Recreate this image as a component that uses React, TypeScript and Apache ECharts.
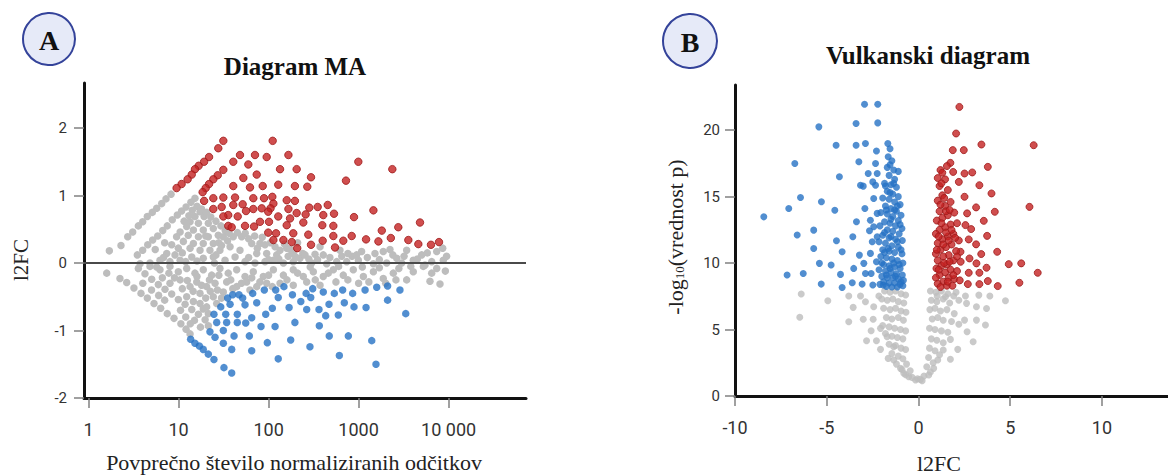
import React, { useEffect, useRef } from 'react';
import * as echarts from 'echarts';

// ---------- Panel A: MA plot (mean normalized counts, l2FC) ----------
const A_X_TICKS = [1, 10, 100, 1000, 10000];
const A_Y_TICKS = [-2, -1, 0, 1, 2];

const A_RED: [number, number][] = [
  [31.4, 1.81], [27.6, 1.70], [21.8, 1.57], [19.2, 1.50], [16.7, 1.44], [15.2, 1.39], [14.0, 1.31], [12.6, 1.24], [10.8, 1.17], [9.5, 1.11],
  [31.4, 1.38], [27.2, 1.30], [24.3, 1.24], [21.8, 1.17], [20.0, 1.11], [18.5, 1.05],
  [40.5, 1.50], [48.1, 1.60], [70.6, 1.60], [95.2, 1.57], [111, 1.81], [166, 1.60], [59.5, 1.46], [73.8, 1.31], [52.4, 1.26], [40.5, 1.14],
  [62.1, 1.12], [86, 1.14], [128, 1.16], [196, 1.14], [134, 1.39], [205, 1.39],
  [19.2, 0.92], [24.3, 0.96], [31.4, 0.97], [42.4, 0.97], [51.5, 0.87], [67.6, 0.96], [88.9, 0.96], [110, 0.98], [113, 0.88], [105, 0.81],
  [99, 0.76], [83.8, 0.81], [67.6, 0.80], [56.1, 0.77], [40.5, 0.86], [30.1, 0.83], [24.3, 0.80], [35.6, 0.71], [31.4, 0.69], [45.4, 0.69],
  [54.7, 0.55], [68.9, 0.54], [80.2, 0.61], [101, 0.61], [128, 0.69], [173, 0.66], [159, 0.56], [205, 0.74], [35.6, 0.55], [38.9, 0.53],
  [99, 0.45], [121, 0.44], [113, 0.34], [146, 0.34], [181, 0.31], [188, 0.44], [208, 0.22],
  [159, 0.93], [196, 0.92], [166, 0.80],
  [993, 1.50], [2370, 1.39], [724, 1.22], [296, 1.27], [269, 1.13], [1460, 0.78], [889, 0.68], [4810, 0.60], [2760, 0.53], [1810, 0.48],
  [1210, 0.35], [1660, 0.32], [2280, 0.37], [3570, 0.34], [4610, 0.28], [6370, 0.27], [7820, 0.31], [838, 0.40], [676, 0.33], [547, 0.23],
  [524, 0.40], [524, 0.55], [395, 0.56], [399, 0.33], [405, 0.71], [533, 0.73], [454, 0.86], [351, 0.83], [283, 0.82], [296, 0.27],
  [258, 0.72], [243, 0.60], [276, 0.42],
];

const A_BLUE: [number, number][] = [
  [13.6, -1.13], [15.2, -1.19], [17.0, -1.23], [18.8, -1.28], [21.4, -1.35], [24.7, -1.43], [31.9, -1.55], [38.9, -1.63],
  [22.3, -1.02], [25.4, -1.10], [31.4, -1.00], [24.7, -0.76], [29.4, -0.65], [33.4, -0.76], [26.5, -0.88], [34.2, -0.88],
  [31.4, -1.19], [38.9, -1.28], [41.3, -1.08], [44.9, -0.88], [44.9, -0.76], [37.3, -0.61], [35.1, -0.52], [39.9, -0.47],
  [46.9, -0.47], [51.5, -0.52], [54.7, -0.62], [55.7, -0.89], [64.9, -1.30], [61.1, -1.08], [64.9, -0.81], [66.6, -0.45],
  [73.8, -0.59], [82.4, -0.94], [92.9, -0.76], [89.6, -0.40], [96.8, -1.18], [110, -0.67], [118, -0.94], [120, -0.40],
  [128, -0.51], [128, -1.42], [148, -0.35], [169, -0.66], [184, -0.47], [196, -0.88], [176, -1.14], [228, -0.57],
  [261, -0.45], [265, -0.69], [294, -0.51], [309, -0.38], [288, -1.24], [366, -0.93], [363, -0.69], [405, -0.43],
  [431, -0.78], [469, -0.61], [472, -1.08], [537, -0.45], [595, -0.77], [665, -0.40], [694, -0.59], [769, -1.08],
  [859, -0.45], [889, -0.65], [611, -1.37], [1180, -0.40], [1210, -0.66], [1400, -1.15], [1560, -1.50], [1590, -0.36],
  [2100, -0.34], [2100, -0.55], [2880, -0.40], [3340, -0.75],
];

const A_GRAY: [number, number][] = [
  [8.24, 1.02], [7.24, 0.95], [6.49, 0.88], [5.71, 0.81], [5.1, 0.75], [4.49, 0.69], [3.99, 0.61], [3.57, 0.55], [3.09, 0.46], [2.72, 0.39], [2.29, 0.26], [1.70, 0.18],
  [15.2, 0.96], [13.7, 0.90], [12.1, 0.83], [10.8, 0.77], [9.68, 0.71], [8.51, 0.64], [7.48, 0.55], [6.66, 0.48], [5.86, 0.40], [5.15, 0.34], [4.54, 0.27], [3.99, 0.19], [3.48, 0.12],
  [17.3, 0.76], [15.2, 0.69], [19.2, 0.69], [13.4, 0.61], [16.6, 0.59], [21.4, 0.59], [12.3, 0.54], [14.6, 0.49], [18.8, 0.49], [24.3, 0.51],
  [10.4, 0.46], [12.8, 0.41], [16.6, 0.39], [21.4, 0.39], [27.6, 0.41], [9.5, 0.39], [11.3, 0.32], [14.6, 0.29], [18.8, 0.29], [24.3, 0.29],
  [31.4, 0.39], [40.5, 0.39], [50.2, 0.39], [8.38, 0.27], [9.93, 0.22], [13.4, 0.22], [17.3, 0.19], [22.3, 0.19], [28.8, 0.19], [37.3, 0.24],
  [48.1, 0.19], [64.9, 0.29], [80.2, 0.29], [73.8, 0.14], [95.2, 0.14], [123, 0.12], [159, 0.22], [188, 0.14], [7.38, 0.14], [9.12, 0.12],
  [6.21, 0.04], [8.02, 0.02], [10.4, 0.04], [14.0, 0.09], [18.8, 0.07], [24.3, 0.09], [32.8, 0.04], [42.4, 0.09], [54.7, 0.02], [70.6, 0.00],
  [91.2, 0.02], [113, 0.04], [146, 0.00], [188, 0.02], [4.81, 0.00], [3.73, -0.01], [5.71, -0.06], [91.2, 0.27], [134, 0.19], [223, 0.07],
  [11.5, 0.62], [13.0, 0.70], [14.2, 0.78], [16.0, 0.84], [18.0, 0.80], [20.5, 0.75], [22.8, 0.68], [26.0, 0.62], [29.5, 0.55], [33.0, 0.48],
  [36.5, 0.44], [45.0, 0.45], [55.0, 0.44], [60.0, 0.36], [70.0, 0.40], [85.0, 0.38], [105, 0.30], [118, 0.24], [150, 0.28], [175, 0.20],
  [200, 0.09], [210, 0.30], [240, 0.14], [60, 0.08], [75, 0.22], [100, 0.05], [130, 0.06], [165, 0.10], [28, 0.30], [35, 0.33],
  [26, 0.12], [30, 0.26], [20, 0.40], [11, 0.15], [7, 0.30], [5.5, 0.20], [6.8, 0.08], [12, 0.02], [16, 0.03], [25, 0.00],
  [328, 0.13], [405, 0.12], [571, 0.02], [738, 0.02], [1080, 0.17], [1520, 0.14], [1880, 0.17], [2650, 0.07], [3420, 0.19], [4050, 0.04],
  [5020, 0.12], [6490, 0.02], [7380, 0.17], [8730, 0.04], [254, 0.12], [301, 0.00], [442, -0.01], [1460, -0.01], [2050, 0.00], [3010, 0.00],
  [5470, -0.03], [373, 0.24], [993, 0.04], [621, 0.19], [845, 0.10], [2230, 0.20],
  [280, 0.06], [350, 0.05], [480, 0.08], [650, 0.10], [760, 0.14], [950, 0.12], [1250, 0.08], [1700, 0.05], [2400, 0.12], [3200, 0.10],
  [4500, 0.06], [5800, 0.15], [9500, 0.10], [1100, -0.06], [1700, -0.07], [2800, -0.08], [3800, -0.05], [600, -0.05], [290, -0.06], [9200, -0.12],
  [8600, 0.22],
  [5240, -0.05], [6490, -0.15], [7380, -0.08], [6210, -0.27],
  [1.59, -0.15], [2.23, -0.23], [2.65, -0.29], [3.19, -0.37], [3.82, -0.45], [4.49, -0.52], [5.33, -0.60], [6.32, -0.67], [7.48, -0.75], [8.89, -0.82], [10.6, -0.90], [12.1, -0.98], [13.4, -1.05],
  [3.57, -0.08], [4.23, -0.16], [5.02, -0.24], [5.95, -0.32], [7.06, -0.39], [8.38, -0.46], [9.93, -0.54], [11.8, -0.61], [14.0, -0.69], [16.6, -0.76], [19.7, -0.84], [21.4, -0.93],
  [4.81, -0.05], [6.21, -0.10], [8.02, -0.05], [9.93, -0.13], [12.3, -0.08], [15.2, -0.15], [18.8, -0.10], [23.3, -0.18], [28.8, -0.08], [35.6, -0.15],
  [44.2, -0.10], [54.7, -0.20], [67.6, -0.13], [87.3, -0.20], [113, -0.10], [146, -0.18], [188, -0.10], [243, -0.20], [314, -0.13], [405, -0.20],
  [524, -0.10], [676, -0.18], [873, -0.10], [1130, -0.20], [1460, -0.13], [1880, -0.23], [2430, -0.15], [3420, -0.25], [4050, -0.13], [8020, -0.31],
  [8.02, -0.30], [10.4, -0.25], [13.4, -0.35], [15.9, -0.28], [17.3, -0.45], [20.5, -0.35], [24.3, -0.50], [25.4, -0.30], [31.4, -0.43], [34.2, -0.28],
  [17.3, -0.60], [20.5, -0.65], [12.3, -0.50], [14.6, -0.57], [44.2, -0.35], [57.1, -0.28], [73.8, -0.35], [95.2, -0.30], [134, -0.30], [188, -0.33],
  [265, -0.28], [373, -0.33], [26.5, -0.60], [21.4, -0.75], [18.8, -0.68],
  [5.0, -0.40], [6.0, -0.48], [7.0, -0.55], [4.0, -0.30], [6.6, -0.22], [7.8, -0.15], [9.0, -0.22], [11.0, -0.38], [12.5, -0.26], [14.5, -0.42],
  [16.0, -0.20], [18.0, -0.33], [20.0, -0.52], [22.5, -0.42], [22.0, -0.25], [27.0, -0.40], [28.0, -0.18], [30.0, -0.52], [38.0, -0.25], [40.0, -0.38],
  [50.0, -0.30], [62.0, -0.40], [65.0, -0.22], [80.0, -0.28], [100, -0.18], [110, -0.35], [160, -0.25], [210, -0.15], [330, -0.25], [460, -0.15],
  [560, -0.28], [760, -0.25], [1000, -0.30], [1300, -0.28], [2000, -0.30], [2600, -0.25], [15.0, -0.85], [17.5, -0.95], [10.5, -0.70], [12.0, -0.80],
  [13.5, -0.90],
];

// ---------- Panel B: volcano plot (l2FC, -log10 p) ----------
const B_X_TICKS = [-10, -5, 0, 5, 10];
const B_Y_TICKS = [0, 5, 10, 15, 20];

const B_BLUE: [number, number][] = [
  [-8.43, 13.48], [-7.07, 14.11], [-6.74, 17.50], [-6.43, 14.94], [-6.61, 12.11], [-7.16, 9.10], [-6.28, 9.22], [-5.43, 20.25], [-5.71, 12.48], [-5.71, 11.10],
  [-5.40, 9.98], [-5.29, 14.61], [-4.76, 9.85], [-4.56, 13.98], [-4.49, 18.87], [-4.31, 16.49], [-4.47, 11.68], [-4.16, 10.85], [-4.25, 9.15], [-3.58, 11.98],
  [-3.53, 9.60], [-3.38, 13.11], [-3.40, 20.50], [-3.40, 18.87], [-3.25, 17.62], [-3.16, 15.86], [-3.01, 15.79], [-2.92, 14.11], [-3.22, 10.60], [-2.98, 9.98],
  [-2.89, 9.22], [-2.94, 21.95], [-2.89, 19.0], [-2.74, 16.74], [-2.49, 16.11], [-2.44, 14.86], [-2.62, 13.23], [-2.67, 12.43], [-2.52, 11.60], [-2.62, 10.73],
  [-2.58, 9.22], [-2.22, 21.95], [-2.22, 20.55], [-2.29, 18.44], [-2.34, 17.50], [-2.25, 16.74], [-2.34, 15.86], [-2.25, 13.74], [-2.44, 12.73], [-2.25, 11.98],
  [-2.29, 10.10], [-1.67, 19.0], [-1.65, 18.0], [-5.30, 8.42], [-4.16, 8.17], [-3.61, 8.52], [-3.07, 8.42], [-2.49, 8.35], [-1.92, 8.35],
  [-1.55, 18.6], [-1.45, 17.7], [-1.70, 17.2], [-1.35, 17.0], [-1.60, 16.6], [-1.30, 16.3], [-1.85, 16.0], [-1.50, 15.9], [-1.20, 15.7], [-1.70, 15.4],
  [-1.40, 15.2], [-1.10, 15.0], [-1.95, 14.9], [-1.60, 14.8], [-1.30, 14.6], [-1.00, 14.4], [-1.80, 14.3], [-1.50, 14.1], [-1.20, 13.9], [-2.05, 13.8],
  [-1.70, 13.7], [-0.95, 13.6], [-1.40, 13.5], [-1.10, 13.2], [-1.85, 13.1], [-1.55, 13.0], [-2.10, 12.8], [-1.25, 12.8], [-0.90, 12.6], [-1.70, 12.5],
  [-1.40, 12.4], [-1.05, 12.2], [-1.95, 12.1], [-1.60, 11.9], [-1.25, 11.8], [-0.88, 11.7], [-2.15, 11.6], [-1.80, 11.5], [-1.45, 11.3], [-1.10, 11.2],
  [-1.95, 11.0], [-1.60, 10.9], [-1.30, 10.8], [-0.90, 10.7], [-2.05, 10.5], [-1.75, 10.4], [-1.45, 10.3], [-1.15, 10.2], [-0.85, 10.0], [-1.90, 9.9],
  [-1.60, 9.8], [-1.30, 9.7], [-1.00, 9.6], [-2.15, 9.5], [-1.80, 9.4], [-1.50, 9.3], [-1.20, 9.2], [-0.88, 9.1], [-2.00, 9.0], [-1.70, 8.9],
  [-1.40, 8.9], [-1.10, 8.8], [-0.82, 8.7], [-1.90, 8.6], [-1.60, 8.5], [-1.30, 8.5], [-1.00, 8.4], [-0.85, 8.3], [-1.75, 8.25], [-1.45, 8.2], [-1.15, 8.2],
  [-1.85, 12.3], [-1.50, 12.0], [-1.15, 11.6], [-0.95, 11.0], [-1.65, 11.1], [-2.00, 10.0], [-1.35, 10.0], [-1.05, 9.9], [-1.75, 9.1], [-1.25, 9.0],
  [-0.95, 8.6], [-2.10, 8.4], [-1.55, 9.6], [-1.85, 10.8], [-1.00, 12.9], [-1.50, 13.3], [-1.30, 14.0], [-1.75, 14.0], [-1.15, 14.3], [-1.55, 15.3],
  [-1.80, 15.8], [-1.35, 16.0], [-1.10, 16.9], [-1.55, 17.4],
];

const B_RED: [number, number][] = [
  [2.23, 21.75], [2.05, 19.75], [1.87, 18.50], [2.47, 18.50], [3.43, 18.92], [6.28, 18.87], [1.74, 17.54], [1.89, 16.86], [2.51, 16.74], [2.93, 16.82],
  [3.78, 17.24], [2.20, 16.11], [3.32, 15.86], [3.98, 15.24], [2.51, 14.99], [3.14, 14.19], [4.16, 13.86], [6.05, 14.23], [2.65, 13.74], [3.56, 13.18],
  [2.56, 12.86], [2.87, 12.56], [3.74, 12.05], [2.74, 11.78], [3.14, 11.41], [2.29, 10.85], [3.42, 10.68], [4.29, 10.85], [2.78, 10.35], [3.16, 9.98],
  [4.92, 9.92], [5.60, 9.98], [3.71, 9.65], [2.74, 9.27], [3.32, 9.27], [6.50, 9.27], [3.78, 8.65], [2.69, 8.42], [3.32, 8.42], [4.32, 8.27], [5.50, 8.52],
  [1.20, 17.0], [1.45, 16.3], [1.15, 15.8], [1.60, 15.5], [1.30, 15.1], [1.05, 14.7], [1.75, 14.6], [1.45, 14.3], [1.15, 13.9], [1.95, 13.8],
  [1.60, 13.6], [1.30, 13.4], [1.00, 13.2], [2.10, 13.0], [1.75, 12.9], [1.45, 12.7], [1.15, 12.5], [0.95, 12.2], [1.90, 12.2], [1.60, 12.0],
  [1.30, 11.8], [2.20, 11.7], [1.05, 11.5], [1.80, 11.4], [1.50, 11.2], [1.20, 11.0], [2.05, 10.9], [0.95, 10.7], [1.65, 10.6], [1.35, 10.5],
  [1.05, 10.2], [1.90, 10.2], [2.30, 10.1], [1.55, 9.9], [1.25, 9.8], [0.98, 9.6], [1.75, 9.5], [2.10, 9.4], [1.45, 9.3], [1.15, 9.1],
  [0.95, 8.9], [1.65, 8.9], [1.95, 8.8], [1.35, 8.6], [1.05, 8.45], [1.55, 8.3], [1.85, 8.3], [1.20, 8.2], [2.25, 8.7], [2.00, 11.9],
  [1.40, 14.9], [1.25, 16.0],
  [1.10, 9.5], [1.40, 10.0], [1.70, 10.1], [1.00, 11.0], [1.35, 11.4], [1.65, 11.7], [1.10, 12.0], [1.50, 12.3], [1.80, 12.5], [1.25, 13.0],
  [1.50, 13.9], [1.90, 9.1], [1.60, 8.6], [2.10, 10.5], [1.20, 14.4], [1.70, 14.0], [1.30, 16.8], [1.55, 17.3], [1.05, 16.4],
];

const B_GRAY: [number, number][] = [
  [-6.39, 7.67], [-6.47, 5.92], [-4.94, 7.17], [-3.80, 7.52], [-3.16, 7.52], [-3.56, 6.67], [-3.80, 5.59], [-3.01, 5.77], [-2.47, 5.77], [-2.83, 4.16],
  [-2.58, 4.91], [-2.29, 4.16], [-2.07, 3.51], [-1.65, 2.83], [-1.35, 2.71], [-0.98, 2.08], [-0.80, 1.71], [-0.53, 1.45], [-0.16, 1.20], [0.20, 1.15],
  [0.56, 1.58], [0.83, 2.08], [1.05, 2.71], [1.74, 2.76], [1.35, 3.46], [2.14, 3.51], [1.74, 4.26], [2.98, 4.08], [2.65, 4.83], [3.16, 5.71],
  [3.65, 5.34], [2.51, 5.71], [3.71, 6.59], [3.16, 6.71], [2.62, 6.97], [1.47, 7.47], [1.02, 7.52], [1.92, 7.52], [2.56, 7.52], [3.29, 7.59],
  [3.89, 7.52], [4.74, 7.17], [-2.16, 7.52], [-2.44, 6.71], [-2.89, 7.09], [-2.07, 5.09], [-1.71, 4.46], [-1.35, 3.71],
  [-1.85, 7.9], [-1.55, 7.8], [-1.25, 7.9], [-0.95, 7.7], [-0.70, 7.6], [-2.00, 7.3], [-1.70, 7.2], [-1.40, 7.3], [-1.10, 7.1], [-0.80, 7.0],
  [-1.90, 6.6], [-1.55, 6.5], [-1.25, 6.6], [-0.95, 6.4], [-0.68, 6.3], [-1.75, 5.9], [-1.45, 5.8], [-1.10, 5.9], [-0.82, 5.7], [-1.95, 5.3],
  [-1.60, 5.2], [-1.30, 5.1], [-0.98, 5.0], [-0.70, 4.9], [-1.80, 4.7], [-1.45, 4.5], [-1.15, 4.4], [-0.85, 4.3], [-1.60, 3.9], [-1.25, 3.8],
  [-0.95, 3.6], [-0.70, 3.5], [-1.45, 3.2], [-1.10, 3.0], [-0.85, 2.8], [-1.20, 2.4], [-0.65, 2.4], [-0.90, 2.0], [-0.45, 1.9], [-0.70, 1.6],
  [-0.35, 1.4], [-0.05, 1.3],
  [0.65, 7.9], [0.95, 7.8], [1.25, 7.9], [1.60, 7.7], [2.05, 7.8], [0.70, 7.2], [1.00, 7.1], [1.35, 7.3], [1.70, 7.0], [2.20, 7.2],
  [0.62, 6.5], [0.90, 6.6], [1.20, 6.4], [1.55, 6.5], [1.95, 6.2], [0.75, 5.8], [1.05, 5.9], [1.35, 5.7], [1.80, 5.6], [2.20, 5.4],
  [0.60, 5.1], [0.90, 5.0], [1.25, 4.9], [1.60, 4.8], [0.70, 4.3], [1.00, 4.2], [1.35, 4.0], [0.60, 3.6], [0.90, 3.4], [1.15, 3.1],
  [0.55, 2.9], [0.80, 2.5], [0.45, 2.2], [0.65, 1.8], [0.30, 1.5], [0.10, 1.25],
];

const SERIF = '"Liberation Serif", "Times New Roman", serif';
const SANS = 'Roboto, "Noto Sans", sans-serif';
const RED = '#c42222';
const RED_EDGE = '#9e1a1a';
const BLUE = '#2572c4';
const GRAY = '#bdbdbd';

function axisCommon(ticks: number[], margin: number, fontSize: number, formatter?: (v: number) => string) {
  return {
    axisLine: { show: true, onZero: false, lineStyle: { color: '#111', width: 3 } },
    axisTick: { show: true, customValues: ticks, length: 10, lineStyle: { color: '#808080', width: 1.5 } },
    axisLabel: {
      show: true,
      customValues: ticks,
      margin,
      fontFamily: SANS,
      fontSize,
      color: '#333',
      formatter: formatter,
    },
    splitLine: { show: false },
    minorTick: { show: false },
    minorSplitLine: { show: false },
  };
}

function buildOption() {
  return {
    animation: false,
    backgroundColor: '#ffffff',
    grid: [
      { left: 84, top: 83, width: 442, height: 315 },
      { left: 735, top: 85, width: 433, height: 311 },
    ],
    xAxis: [
      {
        type: 'log',
        logBase: 10,
        gridIndex: 0,
        min: 0.889,
        max: 72444,
        ...axisCommon(A_X_TICKS, 22, 18, (v: number) => {
          const n = Math.round(v);
          return n >= 10000 ? '10 000' : String(n);
        }),
      },
      {
        type: 'value',
        gridIndex: 1,
        min: -10,
        max: 13.6,
        ...axisCommon(B_X_TICKS, 22, 18, (v: number) => String(Math.round(v))),
      },
    ],
    yAxis: [
      {
        type: 'value',
        gridIndex: 0,
        min: -2,
        max: 2.6667,
        ...axisCommon(A_Y_TICKS, 17, 15, (v: number) => String(Math.round(v))),
      },
      {
        type: 'value',
        gridIndex: 1,
        min: 0,
        max: 23.4,
        ...axisCommon(B_Y_TICKS, 15, 15, (v: number) => String(Math.round(v))),
      },
    ],
    series: [
      {
        type: 'scatter', xAxisIndex: 0, yAxisIndex: 0, data: A_GRAY, symbolSize: 7.5,
        itemStyle: { color: GRAY, opacity: 1 }, silent: true, z: 2,
      },
      {
        type: 'scatter', xAxisIndex: 0, yAxisIndex: 0, data: [], silent: true, z: 3,
        markLine: {
          silent: true, symbol: 'none', label: { show: false },
          lineStyle: { color: '#4a4a4a', width: 2, type: 'solid' },
          data: [{ yAxis: 0 }],
        },
      },
      {
        type: 'scatter', xAxisIndex: 0, yAxisIndex: 0, data: A_RED, symbolSize: 7.5,
        itemStyle: { color: RED, borderColor: RED_EDGE, borderWidth: 1 }, silent: true, z: 4,
      },
      {
        type: 'scatter', xAxisIndex: 0, yAxisIndex: 0, data: A_BLUE, symbolSize: 7.5,
        itemStyle: { color: BLUE }, silent: true, z: 4,
      },
      {
        type: 'scatter', xAxisIndex: 1, yAxisIndex: 1, data: B_GRAY, symbolSize: 7,
        itemStyle: { color: GRAY }, silent: true, z: 2,
      },
      {
        type: 'scatter', xAxisIndex: 1, yAxisIndex: 1, data: B_BLUE, symbolSize: 7,
        itemStyle: { color: BLUE }, silent: true, z: 4,
      },
      {
        type: 'scatter', xAxisIndex: 1, yAxisIndex: 1, data: B_RED, symbolSize: 7,
        itemStyle: { color: RED, borderColor: RED_EDGE, borderWidth: 1 }, silent: true, z: 4,
      },
    ],
    graphic: [
      { type: 'circle', shape: { cx: 49, cy: 39, r: 26 }, style: { fill: '#e6eaf8', stroke: '#34439a', lineWidth: 2 } },
      {
        type: 'text', x: 49, y: 40,
        style: { text: 'A', font: `bold 28px ${SERIF}`, fill: '#111', textAlign: 'center', textVerticalAlign: 'middle', align: 'center', verticalAlign: 'middle' },
      },
      { type: 'circle', shape: { cx: 690, cy: 41, r: 27 }, style: { fill: '#e6eaf8', stroke: '#34439a', lineWidth: 2 } },
      {
        type: 'text', x: 690, y: 42,
        style: { text: 'B', font: `bold 28px ${SERIF}`, fill: '#111', textAlign: 'center', textVerticalAlign: 'middle', align: 'center', verticalAlign: 'middle' },
      },
      {
        type: 'text', x: 295, y: 66,
        style: { text: 'Diagram MA', font: `bold 25px ${SERIF}`, fill: '#111', textAlign: 'center', textVerticalAlign: 'middle', align: 'center', verticalAlign: 'middle' },
      },
      {
        type: 'text', x: 928, y: 55,
        style: { text: 'Vulkanski diagram', font: `bold 25px ${SERIF}`, fill: '#111', textAlign: 'center', textVerticalAlign: 'middle', align: 'center', verticalAlign: 'middle' },
      },
      {
        type: 'text', x: 294, y: 462,
        style: { text: 'Povprečno število normaliziranih odčitkov', font: `22px ${SERIF}`, fill: '#222', textAlign: 'center', textVerticalAlign: 'middle', align: 'center', verticalAlign: 'middle' },
      },
      {
        type: 'text', x: 21, y: 260, rotation: Math.PI / 2,
        style: { text: 'l2FC', font: `21px ${SERIF}`, fill: '#222', textAlign: 'center', textVerticalAlign: 'middle', align: 'center', verticalAlign: 'middle' },
      },
      {
        type: 'text', x: 939, y: 463,
        style: { text: 'l2FC', font: `22px ${SERIF}`, fill: '#222', textAlign: 'center', textVerticalAlign: 'middle', align: 'center', verticalAlign: 'middle' },
      },
      {
        type: 'text', x: 675, y: 237, rotation: Math.PI / 2,
        style: {
          text: '-log{s|10}(vrednost p)',
          font: `22px ${SERIF}`,
          fontFamily: SERIF,
          fontSize: 22,
          fill: '#222',
          textAlign: 'center', textVerticalAlign: 'middle', align: 'center', verticalAlign: 'middle',
          rich: {
            s: { fontFamily: SERIF, fontSize: 13, fill: '#222', verticalAlign: 'bottom', padding: [6, 0, 0, 0] },
          },
        },
      },
    ],
  };
}

export default function App() {
  const ref = useRef<HTMLDivElement>(null);
  useEffect(() => {
    if (!ref.current) return;
    const chart = echarts.init(ref.current, null, { renderer: 'svg' });
    chart.setOption(buildOption() as any);
    return () => {
      chart.dispose();
    };
  }, []);
  return (
    <div
      ref={ref}
      style={{ position: 'fixed', left: 0, top: 0, width: 1168, height: 476, background: '#ffffff' }}
    />
  );
}
